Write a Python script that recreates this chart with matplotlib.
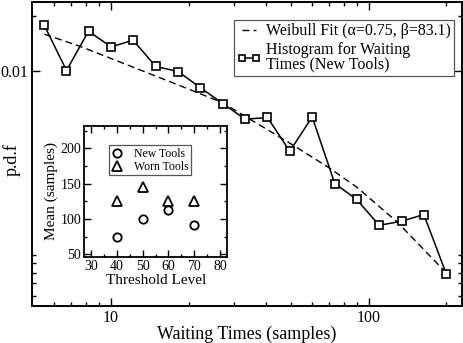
import numpy as np
import matplotlib
matplotlib.use("Agg")
from matplotlib import pyplot as plt
from matplotlib.ticker import FixedLocator, NullFormatter, FixedFormatter

plt.rcParams['font.family'] = ['Liberation Serif', 'DejaVu Serif']

# histogram of waiting times (new tools)
wait_t = [5.50, 6.71, 8.17, 10.0, 12.17, 14.90, 18.20, 22.16, 27.12, 33.13,
          40.44, 49.36, 60.30, 73.8, 89.6, 109.7, 134.0, 163.5, 199.7]
wait_pdf = [0.01780, 0.01009, 0.01651, 0.01356, 0.01475, 0.01061, 0.00996,
            0.00815, 0.00667, 0.00548, 0.00560, 0.00367, 0.00564, 0.002447,
            0.002010, 0.001451, 0.001526, 0.001660, 0.000792]

# weibull fit curve
fit_t = [5.51, 7.55, 11.88, 18.04, 26.97, 49.66, 69.94, 89.6, 128.9, 198.5]
fit_pdf = [0.01590, 0.01368, 0.01066, 0.008464, 0.006754, 0.004041,
           0.002991, 0.002346, 0.001512, 0.000808]

# inset: mean waiting time vs threshold level
threshold = [40, 50, 60, 70]
mean_new = [74, 100, 112, 91]
mean_worn = [125, 145, 126, 125]

fig = plt.figure(figsize=(4.64, 3.43), dpi=100)
ax = fig.add_axes([32 / 464, 1 - 306 / 343, 430 / 464, 304 / 343])

ax.plot(fit_t, fit_pdf, color='black', lw=1.0, dashes=(5, 3),
        label='Weibull Fit (α=0.75, β=83.1)')
ax.plot(wait_t, wait_pdf, color='black', lw=1.1, marker='s', ms=5.5,
        mfc='white', mec='black', mew=1.2,
        label='Histogram for Waiting\nTimes (New Tools)')

ax.set_xscale('log')
ax.set_yscale('log')
ax.set_xlim(4.93, 230)
ax.set_ylim(0.000528, 0.0238)

ax.xaxis.set_major_locator(FixedLocator([10, 100]))
ax.xaxis.set_major_formatter(FixedFormatter(['10', '100']))
ax.xaxis.set_minor_locator(FixedLocator([6, 7, 8, 9, 20, 30, 40, 50, 60, 70, 80, 90, 200]))
ax.xaxis.set_minor_formatter(NullFormatter())
ax.yaxis.set_major_locator(FixedLocator([0.01]))
ax.yaxis.set_major_formatter(FixedFormatter(['0.01']))
ax.yaxis.set_minor_locator(FixedLocator([0.02, 0.001, 0.0009, 0.0008, 0.0007, 0.0006]))
ax.yaxis.set_minor_formatter(NullFormatter())

ax.tick_params(which='both', direction='in', top=True, right=True, labelsize=11.5,
               width=1.0, pad=3)
ax.tick_params(which='major', length=6)
ax.tick_params(which='minor', length=3)
for s in ax.spines.values():
    s.set_linewidth(1.4)

ax.set_xlabel('Waiting Times (samples)', fontsize=13, labelpad=0)
ax.set_ylabel('p.d.f', fontsize=13)
ax.yaxis.set_label_coords(-0.027, 0.48)

leg = ax.legend(loc='upper right', bbox_to_anchor=(0.9805, 0.9405), fontsize=11.5,
                handlelength=1.5, handletextpad=0.3, borderpad=0.2,
                labelspacing=0.2, fancybox=False, framealpha=1, numpoints=2,
                markerscale=0.75, borderaxespad=0)
for t in leg.get_texts():
    t.set_linespacing(0.85)
leg.get_frame().set_edgecolor('#555555')
leg.get_frame().set_linewidth(0.9)

# inset
ins = fig.add_axes([84 / 464, 1 - 257 / 343, 143.3 / 464, 131.3 / 343])
ins.plot(threshold, mean_new, ls='none', marker='o', ms=6, mfc='none',
         mec='black', mew=1.3, label='New Tools')
ins.plot(threshold, mean_worn, ls='none', marker='^', ms=6.5, mfc='none',
         mec='black', mew=1.3, label='Worn Tools')
ins.set_xlim(27.4, 82.7)
ins.set_ylim(46, 232)
ins.set_xticks([30, 40, 50, 60, 70, 80])
ins.set_xticks([35, 45, 55, 65, 75], minor=True)
ins.set_yticks([50, 100, 150, 200])
ins.set_yticks([75, 125, 175, 225], minor=True)
ins.tick_params(which='both', direction='in', top=True, right=True, labelsize=10,
                width=1.0, pad=2)
ins.tick_params(which='major', length=5)
ins.tick_params(which='minor', length=2.5)
for s in ins.spines.values():
    s.set_linewidth(1.3)
ins.set_xlabel('Threshold Level', fontsize=11, labelpad=1)
ins.set_ylabel('Mean (samples)', fontsize=11, labelpad=2)

ileg = ins.legend(loc='upper left', bbox_to_anchor=(0.176, 0.85), fontsize=8.5,
                  handlelength=1.0, handletextpad=0.9, borderpad=0.2,
                  labelspacing=0.1, fancybox=False, framealpha=1, borderaxespad=0)
ileg.get_frame().set_edgecolor('#555555')
ileg.get_frame().set_linewidth(0.9)

fig.savefig('out.png', dpi=100)
